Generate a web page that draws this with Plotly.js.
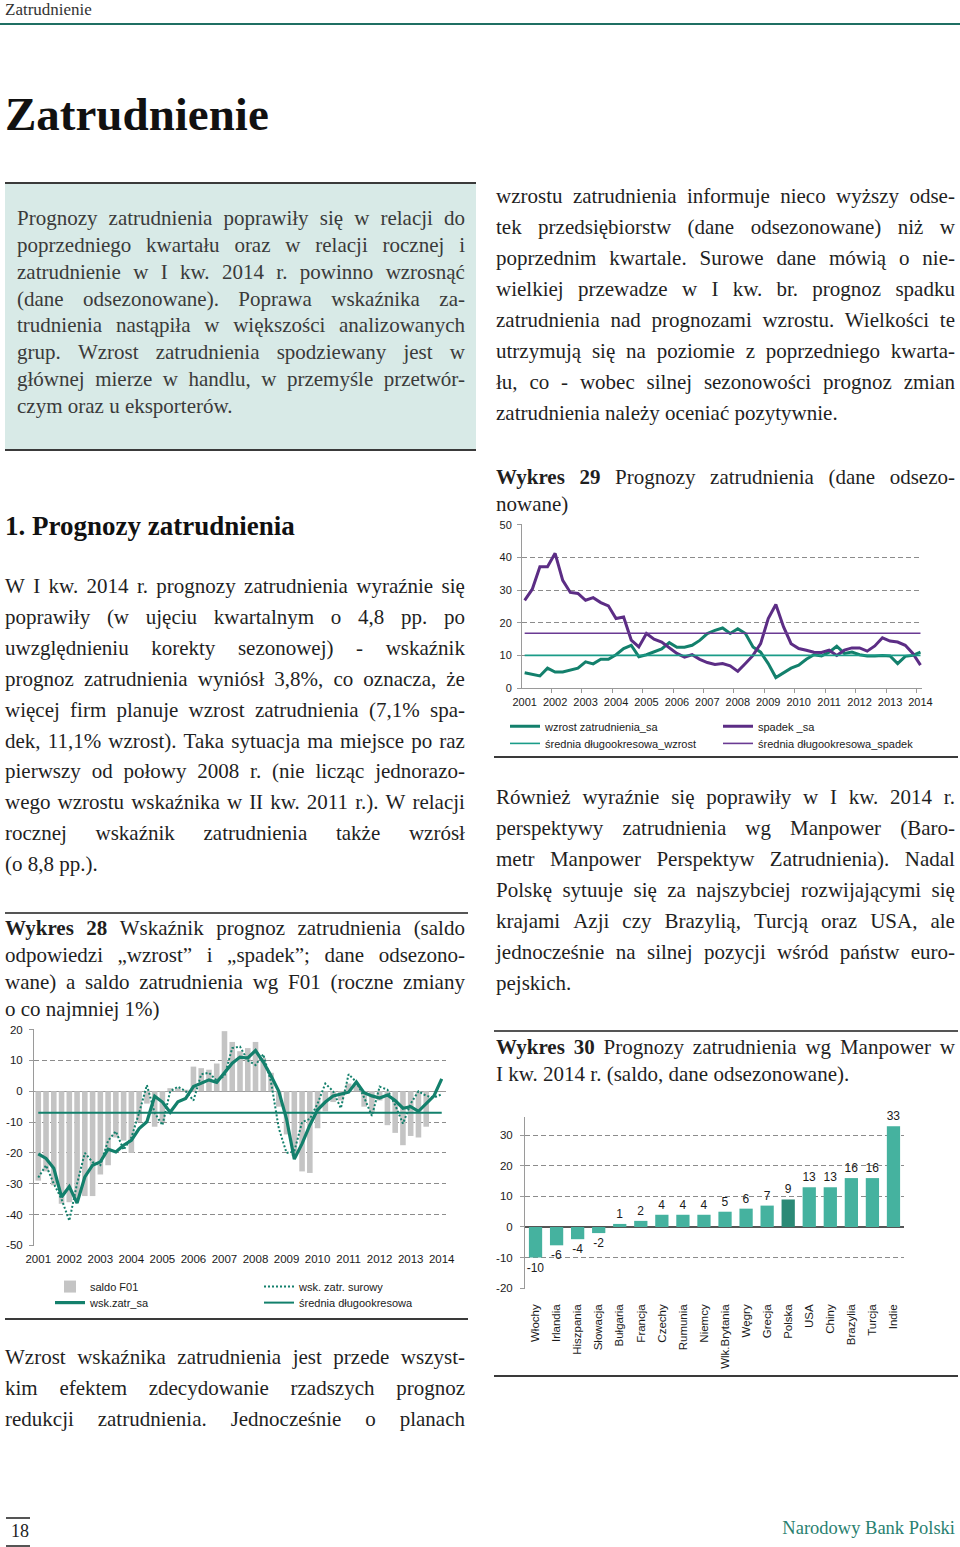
<!DOCTYPE html>
<html><head><meta charset="utf-8">
<script src="https://cdn.plot.ly/plotly-3.0.1.min.js"></script>
<style>
html,body{margin:0;padding:0;background:#fff;}
#page{position:relative;width:960px;height:1547px;overflow:hidden;font-family:"Liberation Serif","Times New Roman",serif;color:#1a1a1a;}
.ln{position:absolute;display:flex;justify-content:space-between;white-space:nowrap;gap:3px;}
.lnl{position:absolute;white-space:nowrap;}
.rule{position:absolute;}
.chart{position:absolute;}
</style></head>
<body><div id="page">
<div class="rule" style="left:0;top:22.5px;width:960px;height:2.5px;background:#1f6f63;"></div>
<div style="position:absolute;left:5px;top:0px;font-size:17px;line-height:20px;color:#333;">Zatrudnienie</div>
<div style="position:absolute;left:5px;top:86px;font-size:47px;line-height:56px;font-weight:bold;color:#111;">Zatrudnienie</div>
<div class="rule" style="left:5px;top:182px;width:471px;height:269px;background:#d8eae7;border-top:2px solid #3a3a3a;border-bottom:2px solid #3a3a3a;box-sizing:border-box;"></div>
<div style="position:absolute;left:5px;top:509px;font-size:27px;line-height:34px;font-weight:bold;color:#111;">1. Prognozy zatrudnienia</div>
<div class="rule" style="left:5px;top:912px;width:463px;height:1.5px;background:#555;"></div>
<div class="rule" style="left:5px;top:1318px;width:463px;height:2px;background:#3a3a3a;"></div>
<div class="rule" style="left:494px;top:756px;width:464px;height:2px;background:#3a3a3a;"></div>
<div class="rule" style="left:494px;top:1030px;width:464px;height:1.5px;background:#555;"></div>
<div class="rule" style="left:494px;top:1375px;width:464px;height:2px;background:#3a3a3a;"></div>
<div class="rule" style="left:6px;top:1517px;width:24px;height:1.5px;background:#555;"></div>
<div class="rule" style="left:6px;top:1545px;width:24px;height:1.5px;background:#555;"></div>
<div style="position:absolute;left:11px;top:1520px;font-size:18px;line-height:22px;color:#222;">18</div>
<div style="position:absolute;right:5px;top:1517px;font-size:18.5px;line-height:22px;color:#2a7f70;">Narodowy Bank Polski</div>
<div id="c28" class="chart" style="left:0;top:1020px;width:470px;height:298px;"></div>
<div id="c29" class="chart" style="left:490px;top:515px;width:470px;height:240px;"></div>
<div id="c30" class="chart" style="left:490px;top:1110px;width:470px;height:265px;"></div>
</div>
<script>
// ---------- Chart data ----------
const years = ['2001','2002','2003','2004','2005','2006','2007','2008','2009','2010','2011','2012','2013','2014'];

// Wykres 28 (quarterly, 2001 Q1 - 2014 Q1)
const saldoF01 = [-29,-26,-30.5,-36.5,-36,-35,-34,-34,-27,-24,-15,-16,-20,-10,-4,-11.5,-10,1,1,0.5,8,7.5,7,9,19.5,16,13,14,16,10.8,6,-5,-14,-21,-26,-26.5,-12,-6.5,-3.5,-3,2.5,2,-5,-7,-3,-11,-13.5,-17.5,-14.5,-15,-11.5,null,null];
const wskSurowy = [-28,-24,-30,-35,-42,-30,-20,-23,-24,-16,-13,-19,-15,-7,2,-7,-11,0,1.5,0,-3,5.5,6,3.5,5,14,14.5,10,8.5,12,3,-12,-20,-19.5,-10,-9,-4,2.5,0,-5.5,5.5,3,-2,-8,1.5,0.5,-4.5,-10.5,-4,0,-1.5,-2,-1];
const wskSa = [-20.3,-21.8,-25,-34.3,-30.9,-36.3,-27.8,-24,-22.9,-18.8,-19.7,-17.5,-15.9,-12.1,-9.9,-1.6,-3.5,-6.8,-3.4,-2.3,1.5,2.6,3.7,2.9,5.9,9.1,11.1,10.8,13.2,9.5,5,0,-9,-22,-17,-11,-6,-3.5,-1.5,-0.8,-0.3,3,-0.5,-1.5,-2.2,-1.2,-3,-5.5,-5,-6.5,-4,-1.5,4];
const sredniaWsk = -7;
const yTicks28 = [20, 10, 0, -10, -20, -30, -40, -50];

// Wykres 29 (quarterly, 2001 Q1 - 2014 Q1)
const wzrostSa = [4.7,4.1,3.7,6.1,4.9,4.9,5.6,6.1,8,7.4,8.8,8.8,10.2,12.1,13.1,9.6,10.2,11,12,13.9,12.5,12.5,13.1,14.6,16.7,17.7,18.4,16.7,18.2,16.7,12.6,11,7.5,3.2,4.7,6.1,7,8.8,10.2,9.8,11,12.8,10.6,11,10.2,9.8,9.8,10,9.8,7.5,9.7,10,11];
const spadekSa = [26.9,30.3,37.2,37.2,41.3,33,29.3,29,26.9,27.7,26.2,25.2,21.3,21.8,14.7,12.6,16.7,15,14.1,12.3,10.6,9.5,10.2,8.8,7.8,7.2,7.5,6.8,5.1,7.5,10,13.6,21.3,25.6,18.8,13.6,12.1,11.6,11,10.9,11.6,10,11.6,12.3,12.3,11.3,12.9,15.4,14.4,14.1,13.1,10.6,7];
const sredniaWzrost = 10;
const sredniaSpadek = 16.8;
const yTicks29 = [0, 10, 20, 30, 40, 50];

// Wykres 30
const countries = ['Włochy','Irlandia','Hiszpania','Słowacja','Bułgaria','Francja','Czechy','Rumunia','Niemcy','Wlk.Brytania','Węgry','Grecja','Polska','USA','Chiny','Brazylia','Turcja','Indie'];
const manpower = [-10,-6,-4,-2,1,2,4,4,4,5,6,7,9,13,13,16,16,33];
const highlighted = 'Polska';
const yTicks30 = [30, 20, 10, 0, -10, -20];

// ---------- Text ----------
const page = document.getElementById('page');
function para(lines, x, y, w, lh, size, color, lastLeft) {
  lines.forEach((t, k) => {
    const d = document.createElement('div');
    const isLast = lastLeft && k === lines.length - 1;
    d.className = isLast ? 'lnl' : 'ln';
    d.style.left = x + 'px';
    d.style.top = (y + k * lh) + 'px';
    if (!isLast) d.style.width = w + 'px';
    d.style.height = lh + 'px';
    d.style.lineHeight = lh + 'px';
    d.style.fontSize = size + 'px';
    d.style.color = color;
    const words = t.split(' ');
    words.forEach((wd, j) => {
      const s = document.createElement('span');
      let txt = wd;
      if (wd.startsWith('*')) { txt = wd.slice(1); s.style.fontWeight = 'bold'; }
      s.textContent = (isLast && j < words.length - 1) ? txt + ' ' : txt;
      d.appendChild(s);
    });
    page.appendChild(d);
  });
}
const FS = 21;
para([
  'Prognozy zatrudnienia poprawiły się w relacji do',
  'poprzedniego kwartału oraz w relacji rocznej i',
  'zatrudnienie w I kw. 2014 r. powinno wzrosnąć',
  '(dane odsezonowane). Poprawa wskaźnika za-',
  'trudnienia nastąpiła w większości analizowanych',
  'grup. Wzrost zatrudnienia spodziewany jest w',
  'głównej mierze w handlu, w przemyśle przetwór-',
  'czym oraz u eksporterów.'
], 17, 205, 448, 26.86, FS, '#3a3a3a', true);
para([
  'wzrostu zatrudnienia informuje nieco wyższy odse-',
  'tek przedsiębiorstw (dane odsezonowane) niż w',
  'poprzednim kwartale. Surowe dane mówią o nie-',
  'wielkiej przewadze w I kw. br. prognoz spadku',
  'zatrudnienia nad prognozami wzrostu. Wielkości te',
  'utrzymują się na poziomie z poprzedniego kwarta-',
  'łu, co - wobec silnej sezonowości prognoz zmian',
  'zatrudnienia należy oceniać pozytywnie.'
], 496, 181, 459, 31, FS, '#1f1f1f', true);
para([
  'W I kw. 2014 r. prognozy zatrudnienia wyraźnie się',
  'poprawiły (w ujęciu kwartalnym o 4,8 pp. po',
  'uwzględnieniu korekty sezonowej) - wskaźnik',
  'prognoz zatrudnienia wyniósł 3,8%, co oznacza, że',
  'więcej firm planuje wzrost zatrudnienia (7,1% spa-',
  'dek, 11,1% wzrost). Taka sytuacja ma miejsce po raz',
  'pierwszy od połowy 2008 r. (nie licząc jednorazo-',
  'wego wzrostu wskaźnika w II kw. 2011 r.). W relacji',
  'rocznej wskaźnik zatrudnienia także wzrósł',
  '(o 8,8 pp.).'
], 5, 571, 460, 30.9, FS, '#1f1f1f', true);
para([
  '*Wykres *28 Wskaźnik prognoz zatrudnienia (saldo',
  'odpowiedzi „wzrost” i „spadek”; dane odsezono-',
  'wane) a saldo zatrudnienia wg F01 (roczne zmiany',
  'o co najmniej 1%)'
], 5, 915, 460, 27, FS, '#1f1f1f', true);
para([
  '*Wykres *29 Prognozy zatrudnienia (dane odsezo-',
  'nowane)'
], 496, 464, 459, 27, FS, '#1f1f1f', true);
para([
  'Również wyraźnie się poprawiły w I kw. 2014 r.',
  'perspektywy zatrudnienia wg Manpower (Baro-',
  'metr Manpower Perspektyw Zatrudnienia). Nadal',
  'Polskę sytuuje się za najszybciej rozwijającymi się',
  'krajami Azji czy Brazylią, Turcją oraz USA, ale',
  'jednocześnie na silnej pozycji wśród państw euro-',
  'pejskich.'
], 496, 782, 459, 31, FS, '#1f1f1f', true);
para([
  '*Wykres *30 Prognozy zatrudnienia wg Manpower w',
  'I kw. 2014 r. (saldo, dane odsezonowane).'
], 496, 1034, 459, 27, FS, '#1f1f1f', true);
para([
  'Wzrost wskaźnika zatrudnienia jest przede wszyst-',
  'kim efektem zdecydowanie rzadszych prognoz',
  'redukcji zatrudnienia. Jednocześnie o planach'
], 5, 1342, 460, 31, FS, '#1f1f1f', false);

// ---------- Charts ----------
const FONT = 'Liberation Sans, Arial, sans-serif';
const TXT = '#1a1a1a';
const TEAL = '#13806c';
const PURPLE = '#5c2d85';
const GRID = '#8c8c8c';
const idx = wskSa.map((_, i) => i);
const yearIdx = years.map((_, k) => k * 4);
const cfg = {displayModeBar: false, staticPlot: true};
function lg(x, y) {
  return {x: x, y: y, xref: 'paper', yref: 'paper', xanchor: 'left', yanchor: 'middle',
          bgcolor: 'rgba(0,0,0,0)', borderwidth: 0, font: {family: FONT, size: 11, color: TXT}};
}

// Wykres 28  (plot area: x 34..446, y 9.4..225.6 in chart px)
Plotly.newPlot('c28', [
  {type: 'bar', x: idx, y: saldoF01, name: 'saldo F01', marker: {color: '#c4c4c4'}, legend: 'legend'},
  {type: 'scatter', mode: 'lines', x: idx, y: wskSurowy, name: 'wsk. zatr. surowy',
   line: {color: TEAL, width: 2, dash: '2px,2px'}, legend: 'legend2'},
  {type: 'scatter', mode: 'lines', x: idx, y: wskSa, name: 'wsk.zatr_sa',
   line: {color: TEAL, width: 3.2}, legend: 'legend3'},
  {type: 'scatter', mode: 'lines', x: [idx[0], idx[idx.length - 1]], y: [sredniaWsk, sredniaWsk],
   name: 'średnia długookresowa', line: {color: TEAL, width: 2}, legend: 'legend4'}
], {
  width: 470, height: 298,
  margin: {l: 34, r: 24, t: 9.4, b: 72.4, autoexpand: false},
  paper_bgcolor: 'rgba(0,0,0,0)', plot_bgcolor: 'rgba(0,0,0,0)',
  font: {family: FONT, size: 11.5, color: TXT},
  bargap: 0.28,
  showlegend: true,
  xaxis: {type: 'linear', range: [-0.55, 52.55], tickmode: 'array', tickvals: yearIdx, ticktext: years,
          showgrid: false, zeroline: false, showline: false, ticks: '',
          tickfont: {size: 11.5, color: TXT}, ticklabelstandoff: 4},
  yaxis: {range: [-50.2, 20.2], tickmode: 'array', tickvals: yTicks28, ticktext: yTicks28.map(String),
          showgrid: true, gridcolor: GRID, griddash: '5px,3px', gridwidth: 1,
          zeroline: true, zerolinecolor: '#9a9a9a', zerolinewidth: 1,
          showline: true, linecolor: '#9a9a9a', ticks: 'outside', ticklen: 4, tickcolor: '#9a9a9a',
          tickfont: {size: 11.5, color: TXT}, ticklabelstandoff: 4},
  legend: lg((50 - 34) / 412, (225.6 - 266) / 216.2),
  legend2: lg((259 - 34) / 412, (225.6 - 266) / 216.2),
  legend3: lg((50 - 34) / 412, (225.6 - 282) / 216.2),
  legend4: lg((259 - 34) / 412, (225.6 - 282) / 216.2)
}, cfg);

// Wykres 29  (plot area: x 32..432, y 9..172.7)
Plotly.newPlot('c29', [
  {type: 'scatter', mode: 'lines', x: idx, y: wzrostSa, name: 'wzrost zatrudnienia_sa',
   line: {color: TEAL, width: 3}, legend: 'legend'},
  {type: 'scatter', mode: 'lines', x: idx, y: spadekSa, name: 'spadek _sa',
   line: {color: PURPLE, width: 3}, legend: 'legend2'},
  {type: 'scatter', mode: 'lines', x: [idx[0], idx[idx.length - 1]], y: [sredniaWzrost, sredniaWzrost],
   name: 'średnia długookresowa_wzrost', line: {color: '#1a9c88', width: 1.6}, legend: 'legend3'},
  {type: 'scatter', mode: 'lines', x: [idx[0], idx[idx.length - 1]], y: [sredniaSpadek, sredniaSpadek],
   name: 'średnia długookresowa_spadek', line: {color: '#6a3a93', width: 1.6}, legend: 'legend4'}
], {
  width: 470, height: 240,
  margin: {l: 32, r: 38, t: 9, b: 67.3, autoexpand: false},
  paper_bgcolor: 'rgba(0,0,0,0)', plot_bgcolor: 'rgba(0,0,0,0)',
  font: {family: FONT, size: 11, color: TXT},
  showlegend: true,
  xaxis: {type: 'linear', range: [-0.35, 52.2], tickmode: 'array', tickvals: yearIdx, ticktext: years,
          showgrid: false, zeroline: false, showline: true, linecolor: '#9a9a9a', ticks: '',
          minor: {tickmode: 'linear', tick0: -0.5, dtick: 4, ticks: 'outside', ticklen: 4, tickcolor: '#9a9a9a', showgrid: false},
          tickfont: {size: 11, color: TXT}, ticklabelstandoff: 4},
  yaxis: {range: [0, 50.3], tickmode: 'array', tickvals: yTicks29, ticktext: yTicks29.map(String),
          showgrid: true, gridcolor: GRID, griddash: '5px,3px', gridwidth: 1,
          zeroline: false, showline: true, linecolor: '#9a9a9a', ticks: 'outside', ticklen: 4, tickcolor: '#9a9a9a',
          tickfont: {size: 11, color: TXT}, ticklabelstandoff: 3},
  legend: lg((15 - 32) / 400, (172.7 - 211) / 163.7),
  legend2: lg((228 - 32) / 400, (172.7 - 211) / 163.7),
  legend3: lg((15 - 32) / 400, (172.7 - 228) / 163.7),
  legend4: lg((228 - 32) / 400, (172.7 - 228) / 163.7)
}, cfg);

// Wykres 30
Plotly.newPlot('c30', [
  {type: 'bar', x: countries, y: manpower,
   marker: {color: countries.map(c => c === highlighted ? '#2b8a76' : '#45b29f')},
   text: manpower.map(String), textposition: 'outside', cliponaxis: false, constraintext: 'none',
   textfont: {family: FONT, size: 12, color: TXT}, showlegend: false}
], {
  width: 470, height: 265,
  margin: {l: 35, r: 56.4, t: 6.65, b: 86.2, autoexpand: false},
  paper_bgcolor: 'rgba(0,0,0,0)', plot_bgcolor: 'rgba(0,0,0,0)',
  font: {family: FONT, size: 11, color: TXT},
  bargap: 0.37,
  showlegend: false,
  xaxis: {type: 'category', range: [-0.5, 17.5], tickangle: -90, showgrid: false, zeroline: false,
          showline: false, ticks: '', tickfont: {size: 11.5, color: TXT}, ticklabelstandoff: 12},
  yaxis: {range: [-20.3, 36], tickmode: 'array', tickvals: yTicks30, ticktext: yTicks30.map(String),
          showgrid: true, gridcolor: GRID, griddash: '5px,3px', gridwidth: 1,
          zeroline: true, zerolinecolor: '#555', zerolinewidth: 1.5,
          showline: true, linecolor: '#9a9a9a', ticks: 'outside', ticklen: 4, tickcolor: '#9a9a9a',
          tickfont: {size: 11.5, color: TXT}, ticklabelstandoff: 5}
}, cfg);
</script>
</body></html>
